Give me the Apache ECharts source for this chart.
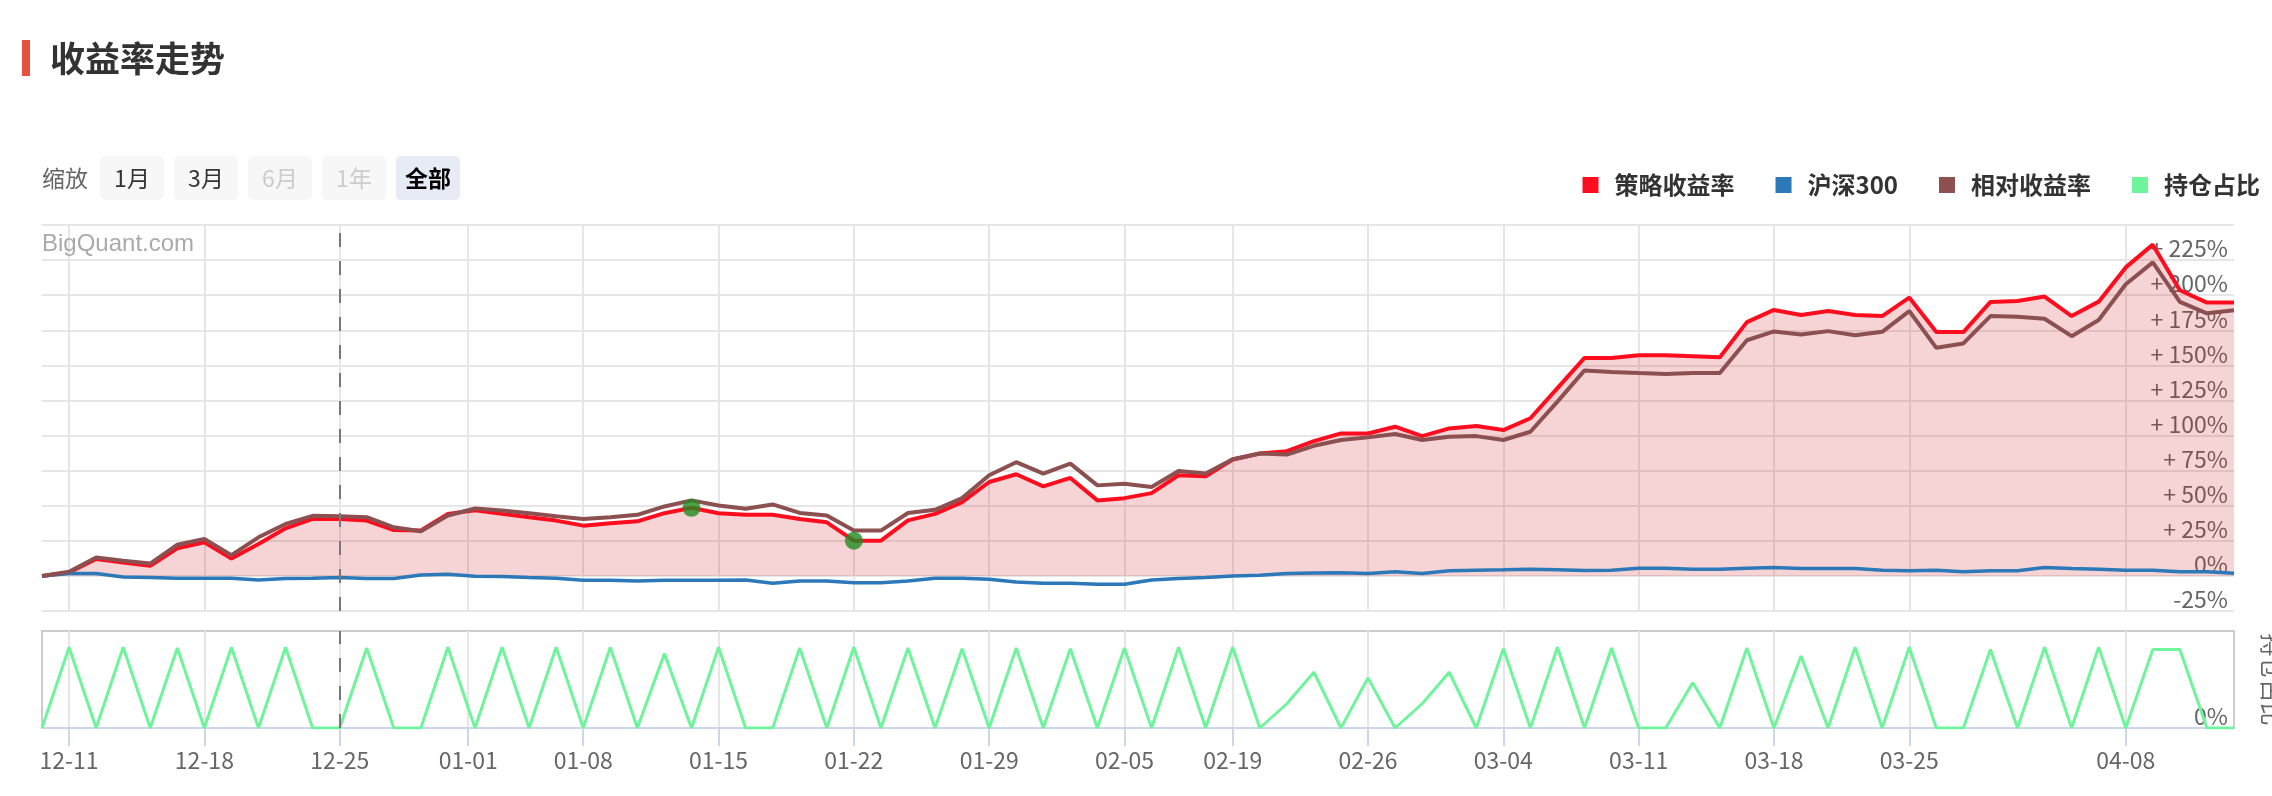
<!DOCTYPE html>
<html><head><meta charset="utf-8">
<script src="https://cdn.jsdelivr.net/npm/echarts@6/dist/echarts.min.js"></script>
<style>html,body{margin:0;padding:0;background:#fff}#c{width:2272px;height:796px}</style>
</head><body><div id="c"></div>
<script>
// ---- data (one value per trading day) ----
const strategy = [0,2.4,12.0,9.6,7.2,19.6,23.9,12.4,22.7,33.9,40.6,40.6,39.4,32.7,32.3,44.2,46.8,44.2,41.8,39.4,35.8,37.5,38.9,44.7,48.5,44.7,43.5,43.5,40.6,38.2,25.1,25.1,39.6,44.2,52.6,66.9,72.4,63.8,69.8,53.8,55.4,59.0,71.7,71.0,82.9,87.2,88.9,96.0,101.5,101.5,106.3,99.6,105.1,106.8,103.9,112.3,133.8,155.3,155.3,157.2,157.2,156.5,155.8,180.8,189.5,185.9,188.7,185.9,185.1,198.3,173.7,173.7,195.2,195.9,199.0,185.1,195.4,219.8,236.0,203.5,194.7,194.7];
const benchmark = [0,1.7,1.7,-0.7,-1.2,-1.7,-1.7,-1.7,-2.9,-1.9,-1.7,-1.2,-1.9,-1.9,0.7,1.2,-0.3,-0.5,-1.2,-1.7,-3.1,-3.1,-3.6,-3.1,-3.1,-3.1,-2.9,-5.3,-3.6,-3.6,-4.8,-4.8,-3.6,-1.7,-1.7,-2.4,-4.3,-5.3,-5.3,-6.0,-6.0,-2.9,-1.9,-1.2,0,0.5,1.7,2.1,2.2,1.7,2.9,1.7,3.6,4.1,4.3,4.8,4.3,3.8,4.1,5.5,5.5,4.8,4.8,5.5,6.0,5.3,5.3,5.3,4.1,3.6,4.1,2.9,3.6,3.6,6.0,5.3,4.8,4.1,4.1,2.9,2.9,1.9];
const relative = [0,2.9,13.1,10.8,8.8,22.2,26.3,14.8,27.5,37.0,42.8,42.5,41.8,34.6,31.8,43.0,48.0,46.6,44.7,42.5,40.6,41.8,43.5,49.5,53.8,50.2,47.8,50.9,44.9,43.0,32.3,32.3,44.8,47.1,55.4,71.7,81.0,72.9,80.0,64.5,65.7,63.3,74.8,72.9,83.1,87.2,86.5,92.7,96.8,98.7,101.1,96.8,99.1,99.6,96.8,102.7,124.2,146.4,145.3,144.5,143.8,144.5,144.5,167.9,174.2,172.0,174.4,171.5,173.9,188.7,162.5,165.6,185.1,184.7,183.2,170.8,182.3,207.8,223.4,195.2,187.1,189.2];
const position = [0,100,0,100,0,99,0,100,0,100,0,0,99,0,0,100,0,100,0,100,0,100,0,92,0,100,0,0,99,0,100,0,99,0,98,0,99,0,98,0,99,0,100,0,100,0,30,69,0,62,0,30,69,0,98,0,100,0,99,0,0,56,0,99,0,89,0,100,0,100,0,0,97,0,100,0,100,0,97,97,0,0];
const tickPos = [1,6,11,15.75,20,25,30,35,40,44,49,54,59,64,69,77];
const tickLabels = ['12-11','12-18','12-25','01-01','01-08','01-15','01-22','01-29','02-05','02-19','02-26','03-04','03-11','03-18','03-25','04-08'];
const markerIdx = [24,30];
const dividerIdx = 11;
const seriesNames = ['策略收益率','沪深300','相对收益率','持仓占比'];
const buttonLabels = ['1月','3月','6月','1年','全部'];
const titleText = '收益率走势';

const FONT = '"Noto Sans CJK SC","Noto Sans",sans-serif';
const pairs = arr => arr.map((v,i)=>[i,v]);
const lastIdx = strategy.length - 1;

const buttons = [];
buttonLabels.forEach((t,k)=>{
  const x = 100 + k*74;
  const sel = k === buttonLabels.length-1;
  const disabled = k === 2 || k === 3;
  buttons.push({type:'rect', left:x, top:156, shape:{width:64,height:44,r:5},
    style:{fill: sel ? '#e6ebf5' : '#f7f7f7'}});
  buttons.push({type:'text', x:x+32, y:178, style:{text:t, fontSize:23, fontFamily:FONT,
    fontWeight: sel ? 'bold' : 'normal',
    fill: sel ? '#000' : (disabled ? '#cccccc' : '#333'), align:'center', verticalAlign:'middle'}});
});

const chart = echarts.init(document.getElementById('c'), null, {renderer:'canvas'});
chart.setOption({
  animation:false,
  backgroundColor:'#fff',
  textStyle:{fontFamily:FONT},
  graphic:[
    {type:'rect', left:22, top:40, shape:{width:8,height:36}, style:{fill:'#e8503f'}},
    {type:'text', x:50, y:59, style:{text:titleText, fontSize:35, fontWeight:'bold', fill:'#333', fontFamily:FONT, verticalAlign:'middle'}},
    {type:'text', x:42, y:178, style:{text:'缩放', fontSize:23, fill:'#666', fontFamily:FONT, verticalAlign:'middle'}},
    ...buttons,
    {type:'text', x:42, y:244, z:10, style:{text:'BigQuant.com', fontSize:24, fill:'#aaaaaa', fontFamily:'"Liberation Sans",Arial,sans-serif', verticalAlign:'middle'}}
  ],
  legend:{
    data:seriesNames, right:7, top:168, itemGap:41, itemWidth:27, itemHeight:16,
    icon:'path://M0,0H16V16H0Z M26.9,0H27V0.1H26.9Z',
    textStyle:{fontSize:24, fontWeight:'bold', color:'#333', fontFamily:FONT}
  },
  grid:[
    {left:42, right:38, top:225, height:386, outerBoundsMode:'none', containLabel:false},
    {left:42, right:38, top:631, height:97, outerBoundsMode:'none', containLabel:false,
     show:true, borderColor:'#cccccc', borderWidth:2, backgroundColor:'transparent'}
  ],
  xAxis:[
    {type:'value', gridIndex:0, min:0, max:lastIdx,
     axisLine:{show:false}, axisTick:{show:false, customValues:tickPos},
     axisLabel:{show:false, customValues:tickPos},
     splitLine:{show:true, lineStyle:{color:'#e6e6e6', width:2}}},
    {type:'value', gridIndex:1, min:0, max:lastIdx, offset:7,
     axisLine:{show:true, lineStyle:{color:'#ccd6eb', width:2}},
     axisTick:{show:true, length:18, customValues:tickPos, lineStyle:{color:'#ccd6eb', width:2}},
     axisLabel:{show:true, customValues:tickPos, margin:14, fontSize:23, color:'#666',
       formatter:(v)=>{const k=tickPos.indexOf(v); return k>=0?tickLabels[k]:'';}},
     splitLine:{show:true, lineStyle:{color:'#e6e6e6', width:2}}}
  ],
  yAxis:[
    {type:'value', gridIndex:0, position:'right', min:-25, max:250, interval:25,
     axisLine:{show:false}, axisTick:{show:false},
     axisLabel:{inside:true, margin:6, fontSize:23, color:'#666', verticalAlign:'bottom', showMaxLabel:false,
       formatter:(v)=> v>0 ? '+ '+v+'%' : v+'%'},
     splitLine:{show:true, lineStyle:{color:'#e6e6e6', width:2}}},
    {type:'value', gridIndex:1, position:'right', min:0, max:120, interval:120,
     axisLine:{show:false}, axisTick:{show:false},
     axisLabel:{inside:true, margin:6, fontSize:23, color:'#666', verticalAlign:'bottom', showMaxLabel:false,
       formatter:(v)=> v===0 ? '0%' : ''},
     splitLine:{show:false},
     name:'持仓占比', nameLocation:'middle', nameRotate:-90, nameGap:26,
     nameTextStyle:{color:'#666', fontSize:23, fontFamily:FONT}}
  ],
  series:[
    {name:seriesNames[0], type:'line', xAxisIndex:0, yAxisIndex:0, data:pairs(strategy), symbol:'none',
     color:'#ff0d1f', lineStyle:{color:'#ff0d1f', width:4}, areaStyle:{color:'rgba(205,25,35,0.27)'}, z:2,
     markLine:{symbol:'none', silent:true, label:{show:false}, lineStyle:{color:'#777', type:[14,14], width:2},
       data:[{xAxis:dividerIdx}]}},
    {name:seriesNames[1], type:'line', xAxisIndex:0, yAxisIndex:0, data:pairs(benchmark), symbol:'none',
     color:'#2c78b8', lineStyle:{color:'#2c78b8', width:3.5}, z:3},
    {name:seriesNames[2], type:'line', xAxisIndex:0, yAxisIndex:0, data:pairs(relative), symbol:'none',
     color:'#8c5050', lineStyle:{color:'#8c5050', width:4}, z:4},
    {name:seriesNames[3], type:'line', xAxisIndex:1, yAxisIndex:1, data:pairs(position), symbol:'none',
     color:'#6ef59c', lineStyle:{color:'#6ef59c', width:3}, z:3,
     markLine:{symbol:'none', silent:true, label:{show:false}, lineStyle:{color:'#777', type:[14,14], width:2},
       data:[{xAxis:dividerIdx}]}},
    {name:'marker', type:'scatter', xAxisIndex:0, yAxisIndex:0, symbolSize:18, z:6,
     itemStyle:{color:'#228b22'}, data:markerIdx.map(i=>[i,strategy[i]])}
  ]
});
</script></body></html>
